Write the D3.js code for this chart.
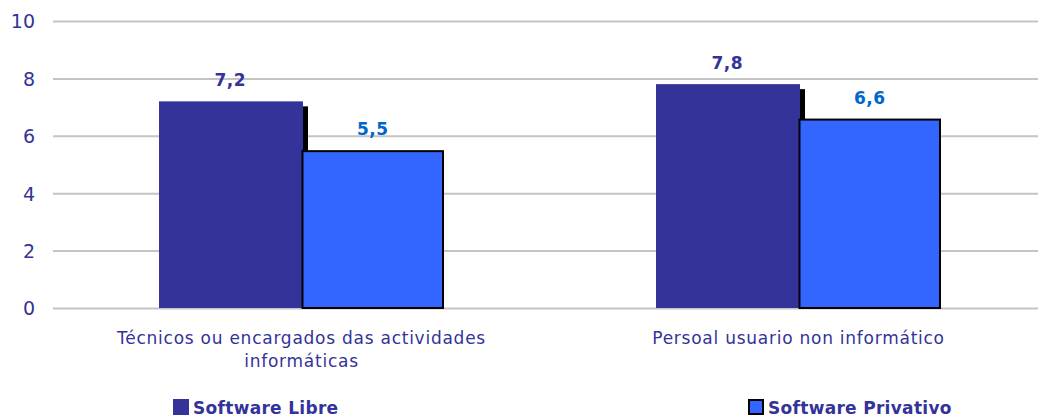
<!DOCTYPE html>
<html><head><meta charset="utf-8">
<script src="https://cdn.jsdelivr.net/npm/d3@7"></script>
<style>body{margin:0;background:#fff}svg{display:block}</style>
</head><body>
<svg id="c" width="1038" height="417"></svg>
<script>
const categories = [["Técnicos ou encargados das actividades","informáticas"],["Persoal usuario non informático"]];
const categoryKeys = ["Técnicos ou encargados das actividades informáticas","Persoal usuario non informático"];
const seriesNames = ["Software Libre","Software Privativo"];
const libreValues = [7.2, 7.8];
const privativoValues = [5.5, 6.6];
const yTicks = [0,2,4,6,8,10];

const font = "'DejaVu Sans', Verdana, sans-serif";
const svg = d3.select("#c");
const y = d3.scaleLinear().domain([0,10]).range([308,21]);
const x0 = d3.scaleBand().domain(categoryKeys).range([53,1047]).paddingInner(0.4266).paddingOuter(0.2133);
const x1 = d3.scaleBand().domain(seriesNames).range([0,x0.bandwidth()]);
const colors = {"Software Libre":"#333399","Software Privativo":"#3366FF"};
const labelColors = {"Software Libre":"#333399","Software Privativo":"#0066CC"};

// gridlines
const yAxis = d3.axisLeft(y).tickValues(yTicks).tickSize(-(1038-53)).tickPadding(18).tickFormat(d3.format("d"));
const ga = svg.append("g").attr("transform","translate(53,0)").call(yAxis);
ga.select(".domain").remove();
ga.selectAll(".tick line").attr("stroke","#c4c4c4").attr("stroke-width",2);
ga.selectAll(".tick text").attr("fill","#333399").style("font-family",font).style("font-size","19px").attr("dy","0.36em");

const data = categoryKeys.map((k,i)=>({key:k, vals:[{s:seriesNames[0],v:libreValues[i]},{s:seriesNames[1],v:privativoValues[i]}]}));

const groups = svg.selectAll("g.grp").data(data).join("g").attr("class","grp")
  .attr("transform",d=>`translate(${x0(d.key)},0)`);

// shadow for Libre bar
groups.append("rect")
  .attr("x",d=>x1(seriesNames[0])+5).attr("y",d=>y(d.vals[0].v)+5)
  .attr("width",x1.bandwidth()+1.5).attr("height",d=>y(0)-y(d.vals[0].v)-5)
  .attr("fill","#000");
// Libre bar
groups.append("rect")
  .attr("x",d=>x1(seriesNames[0])).attr("y",d=>y(d.vals[0].v))
  .attr("width",x1.bandwidth()+1.5).attr("height",d=>y(0)-y(d.vals[0].v))
  .attr("fill",colors[seriesNames[0]]);
// Privativo bar
groups.append("rect")
  .attr("x",d=>x1(seriesNames[1])+1).attr("y",d=>y(d.vals[1].v)+1)
  .attr("width",x1.bandwidth()-2).attr("height",d=>y(0)-y(d.vals[1].v)-1)
  .attr("fill",colors[seriesNames[1]]).attr("stroke","#000").attr("stroke-width",2);

// value labels
groups.selectAll("text.val").data(d=>d.vals).join("text").attr("class","val")
  .attr("x",d=>x1(d.s)+x1.bandwidth()/2).attr("y",d=>y(d.v)-15)
  .attr("text-anchor","middle").attr("fill",d=>labelColors[d.s])
  .style("font-family",font).style("font-size","17px").style("font-weight","bold").style("letter-spacing","0.5px")
  .text(d=>d3.format(".1f")(d.v).replace(".",","));

// category labels
categories.forEach((lines,i)=>{
  const cx = x0(categoryKeys[i]) + x0.bandwidth()/2;
  const t = svg.append("text").attr("x",cx).attr("y",344).attr("text-anchor","middle")
    .attr("fill","#333399").style("font-family",font).style("font-size","17px").style("letter-spacing","0.75px");
  lines.forEach((l,j)=>t.append("tspan").attr("x",cx).attr("dy",j?23:0).text(l));
});

// legend
const legendX = [173,748];
seriesNames.forEach((s,i)=>{
  const g = svg.append("g").attr("transform",`translate(${legendX[i]},399)`);
  g.append("rect").attr("x",i?1:0).attr("y",i?1:0).attr("width",i?14:16).attr("height",i?14:16)
    .attr("fill",colors[s]).attr("stroke",i?"#000":"none").attr("stroke-width",2);
  g.append("text").attr("x",20).attr("y",15).attr("fill","#333399")
    .style("font-family",font).style("font-size","17px").style("font-weight","bold").style("letter-spacing","0.3px").text(s);
});
</script>
</body></html>
